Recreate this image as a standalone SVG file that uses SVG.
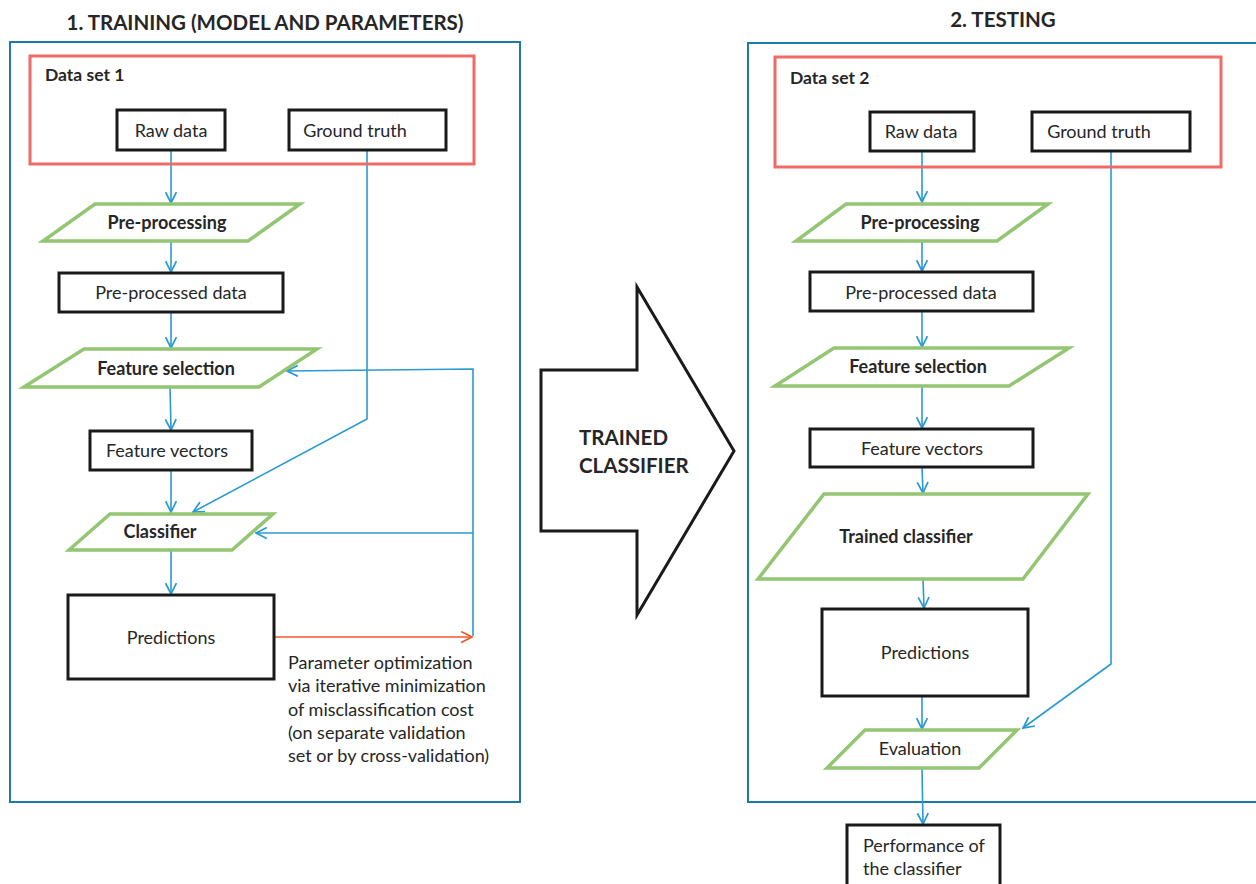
<svg xmlns="http://www.w3.org/2000/svg" width="1256" height="884" viewBox="0 0 1256 884">
<defs>
<style>
.panel{fill:none;stroke:#1d7aa6;stroke-width:2}
.ds{fill:none;stroke:#ef6b66;stroke-width:3}
.box{fill:#fff;stroke:#1a1a1a;stroke-width:3}
.io{fill:#fff;stroke:#93c572;stroke-width:3.5;stroke-linejoin:miter}
.c{fill:none;stroke:#2a9ad0;stroke-width:1.6}
.r{fill:none;stroke:#f0572a;stroke-width:1.6}
text{font-family:Lato,"Open Sans","Liberation Sans",sans-serif;fill:#262626}
.t{font-size:18px}
.b{font-size:18px;font-weight:bold}
.d{font-size:17.5px;font-weight:bold}
.h{font-size:20.5px;font-weight:bold}
.m{text-anchor:middle}
</style>
<marker id="ab" viewBox="0 0 12 12" refX="11" refY="6" markerWidth="13" markerHeight="13" markerUnits="userSpaceOnUse" orient="auto">
<path d="M1,1 L11,6 L1,11" fill="none" stroke="#2a9ad0" stroke-width="1.6"/>
</marker>
<marker id="ar" viewBox="0 0 12 12" refX="11" refY="6" markerWidth="13" markerHeight="13" markerUnits="userSpaceOnUse" orient="auto">
<path d="M1,1 L11,6 L1,11" fill="none" stroke="#f0572a" stroke-width="1.6"/>
</marker>
</defs>
<rect width="1256" height="884" fill="#fff"/>

<g id="panel-training">
<text class="h m" x="265" y="30">1. TRAINING (MODEL AND PARAMETERS)</text>
<rect class="panel" x="10" y="42" width="510" height="760"/>
</g>
<g id="panel-testing">
<text class="h m" x="1003" y="27">2. TESTING</text>
<rect class="panel" x="748" y="43" width="520" height="759"/>
</g>

<g id="connectors">
<line class="c" x1="171" y1="150" x2="171" y2="203" marker-end="url(#ab)"/>
<line class="c" x1="171" y1="241" x2="171" y2="272" marker-end="url(#ab)"/>
<line class="c" x1="171" y1="312" x2="171" y2="348" marker-end="url(#ab)"/>
<line class="c" x1="170" y1="387" x2="171" y2="430" marker-end="url(#ab)"/>
<line class="c" x1="171" y1="470" x2="171" y2="512" marker-end="url(#ab)"/>
<line class="c" x1="171" y1="550" x2="171" y2="594" marker-end="url(#ab)"/>
<polyline class="c" points="367,150 367,419 193,512" marker-end="url(#ab)"/>
<polyline class="c" points="473,636 473,369 287,371" marker-end="url(#ab)"/>
<line class="c" x1="473" y1="533" x2="256" y2="533" marker-end="url(#ab)"/>
<line class="r" x1="274" y1="637" x2="472" y2="637" marker-end="url(#ar)"/>

<line class="c" x1="922" y1="151" x2="922" y2="202" marker-end="url(#ab)"/>
<line class="c" x1="922" y1="241" x2="922" y2="271" marker-end="url(#ab)"/>
<line class="c" x1="922" y1="311" x2="922" y2="347" marker-end="url(#ab)"/>
<line class="c" x1="922" y1="386" x2="922" y2="428" marker-end="url(#ab)"/>
<line class="c" x1="922" y1="467" x2="923" y2="493" marker-end="url(#ab)"/>
<line class="c" x1="923" y1="579" x2="924" y2="608" marker-end="url(#ab)"/>
<line class="c" x1="922" y1="696" x2="922" y2="729" marker-end="url(#ab)"/>
<polyline class="c" points="1111,151 1111,664 1023,728" marker-end="url(#ab)"/>
<line class="c" x1="922" y1="768" x2="923" y2="824" marker-end="url(#ab)"/>
</g>

<g id="dataset1">
<rect class="ds" x="30" y="56" width="444" height="108"/>
<text class="d" x="45" y="81">Data set 1</text>
</g>
<g id="raw1"><rect class="box" x="117" y="110" width="108" height="40"/><text class="t m" x="171" y="137">Raw data</text></g>
<g id="gt1"><rect class="box" x="289" y="110" width="157" height="40"/><text class="t m" x="355" y="137">Ground truth</text></g>
<g id="pre1"><polygon class="io" points="95,204 300,204 248,241 43,241"/><text class="b m" x="167" y="229">Pre-processing</text></g>
<g id="ppd1"><rect class="box" x="59" y="273" width="224" height="39"/><text class="t m" x="171" y="299">Pre-processed data</text></g>
<g id="fs1"><polygon class="io" points="84,349 317,349 259,387 24,387"/><text class="b m" x="166" y="375">Feature selection</text></g>
<g id="fv1"><rect class="box" x="90" y="431" width="162" height="39"/><text class="t m" x="167" y="457">Feature vectors</text></g>
<g id="cls1"><polygon class="io" points="110,514 273,514 232,550 69,550"/><text class="b m" x="160" y="538">Classifier</text></g>
<g id="pred1"><rect class="box" x="68" y="595" width="206" height="84"/><text class="t m" x="171" y="644">Predictions</text></g>
<g id="note1">
<text class="t" x="288" y="669">Parameter optimization</text>
<text class="t" x="288" y="692">via iterative minimization</text>
<text class="t" x="288" y="716">of misclassification cost</text>
<text class="t" x="288" y="739">(on separate validation</text>
<text class="t" x="288" y="762">set or by cross-validation)</text>
</g>

<g id="trained-arrow">
<polygon points="541,370 637,370 637,287 734,451 637,615 637,531 541,531" fill="#fff" stroke="#1a1a1a" stroke-width="3"/>
<text class="h" x="579" y="445">TRAINED</text>
<text class="h" x="579" y="473">CLASSIFIER</text>
</g>

<g id="dataset2">
<rect class="ds" x="775" y="57" width="446" height="110"/>
<text class="d" x="790" y="84">Data set 2</text>
</g>
<g id="raw2"><rect class="box" x="870" y="112" width="104" height="39"/><text class="t m" x="921" y="138">Raw data</text></g>
<g id="gt2"><rect class="box" x="1032" y="112" width="158" height="39"/><text class="t m" x="1099" y="138">Ground truth</text></g>
<g id="pre2"><polygon class="io" points="846,204 1048,204 997,241 796,241"/><text class="b m" x="920" y="229">Pre-processing</text></g>
<g id="ppd2"><rect class="box" x="810" y="272" width="223" height="39"/><text class="t m" x="921" y="299">Pre-processed data</text></g>
<g id="fs2"><polygon class="io" points="834,348 1069,348 1009,386 775,386"/><text class="b m" x="918" y="373">Feature selection</text></g>
<g id="fv2"><rect class="box" x="810" y="429" width="223" height="38"/><text class="t m" x="922" y="455">Feature vectors</text></g>
<g id="tc2"><polygon class="io" points="824,494 1088,494 1023,579 758,579"/><text class="b m" x="906" y="543">Trained classifier</text></g>
<g id="pred2"><rect class="box" x="822" y="609" width="206" height="87"/><text class="t m" x="925" y="659">Predictions</text></g>
<g id="eval2"><polygon class="io" points="865,730 1017,730 979,768 827,768"/><text class="t m" x="920" y="755">Evaluation</text></g>
<g id="perf2"><rect class="box" x="847" y="825" width="153" height="70"/>
<text class="t" x="863" y="852">Performance of</text>
<text class="t" x="863" y="875">the classifier</text></g>
</svg>
